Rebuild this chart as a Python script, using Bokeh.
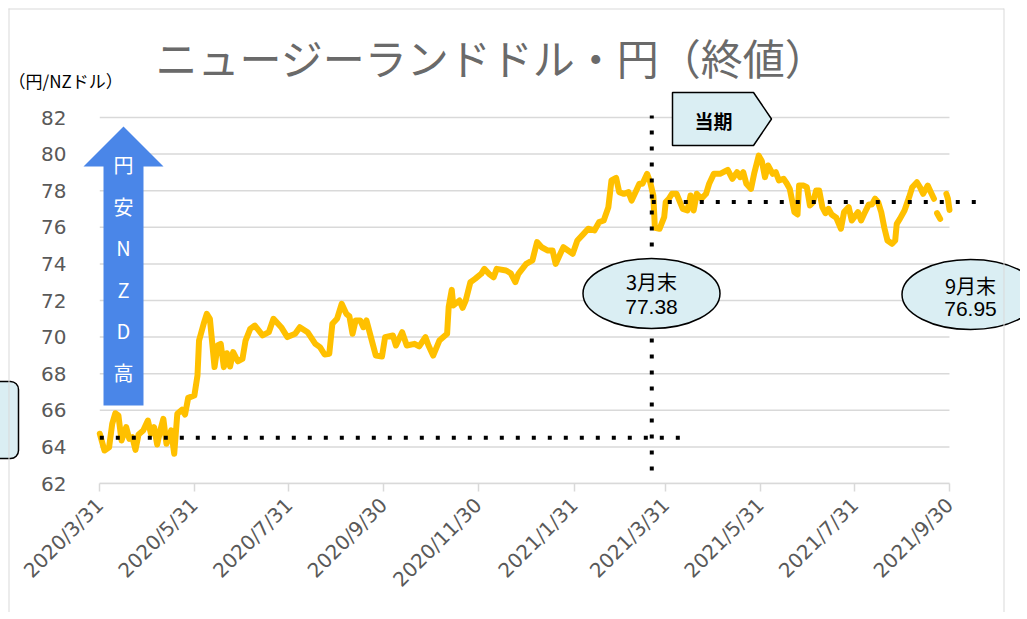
import numpy as np
import pandas as pd
from bokeh.plotting import figure
from bokeh.models import Range1d, FixedTicker, ColumnDataSource
from bokeh.embed import file_html
from bokeh.resources import INLINE
from bokeh.core.properties import value

# ---------------- data ----------------
dates = [
    "2020-03-31", "2020-04-03", "2020-04-06", "2020-04-08", "2020-04-10", "2020-04-12", "2020-04-14",
    "2020-04-17", "2020-04-19", "2020-04-21", "2020-04-23", "2020-04-25", "2020-04-28", "2020-05-01",
    "2020-05-03", "2020-05-05", "2020-05-07", "2020-05-09", "2020-05-11", "2020-05-13", "2020-05-16",
    "2020-05-18", "2020-05-20", "2020-05-23", "2020-05-25", "2020-05-27", "2020-05-31", "2020-06-02",
    "2020-06-03", "2020-06-06", "2020-06-08", "2020-06-10", "2020-06-13", "2020-06-15", "2020-06-17",
    "2020-06-19", "2020-06-21", "2020-06-23", "2020-06-25", "2020-06-28", "2020-07-01", "2020-07-03",
    "2020-07-06", "2020-07-09", "2020-07-14", "2020-07-18", "2020-07-21", "2020-07-26", "2020-07-30",
    "2020-08-04", "2020-08-07", "2020-08-12", "2020-08-17", "2020-08-20", "2020-08-23", "2020-08-26",
    "2020-08-28", "2020-08-31", "2020-09-03", "2020-09-06", "2020-09-08", "2020-09-10", "2020-09-12",
    "2020-09-15", "2020-09-17", "2020-09-19", "2020-09-23", "2020-09-25", "2020-09-29", "2020-10-01",
    "2020-10-06", "2020-10-08", "2020-10-12", "2020-10-15", "2020-10-20", "2020-10-23", "2020-10-27",
    "2020-10-29", "2020-11-01", "2020-11-05", "2020-11-10", "2020-11-11", "2020-11-13", "2020-11-14",
    "2020-11-18", "2020-11-20", "2020-11-22", "2020-11-25", "2020-11-28", "2020-12-02", "2020-12-04",
    "2020-12-07", "2020-12-10", "2020-12-12", "2020-12-18", "2020-12-21", "2020-12-24", "2020-12-26",
    "2020-12-31", "2021-01-04", "2021-01-07", "2021-01-10", "2021-01-14", "2021-01-17", "2021-01-19",
    "2021-01-22", "2021-01-24", "2021-01-27", "2021-01-30", "2021-02-02", "2021-02-06", "2021-02-09",
    "2021-02-13", "2021-02-16", "2021-02-19", "2021-02-22", "2021-02-24", "2021-02-27", "2021-03-01",
    "2021-03-04", "2021-03-07", "2021-03-09", "2021-03-12", "2021-03-14", "2021-03-16", "2021-03-19",
    "2021-03-21", "2021-03-23", "2021-03-24", "2021-03-27", "2021-03-30", "2021-03-31", "2021-04-02",
    "2021-04-04", "2021-04-07", "2021-04-11", "2021-04-14", "2021-04-16", "2021-04-18", "2021-04-20",
    "2021-04-23", "2021-04-26", "2021-04-28", "2021-05-01", "2021-05-05", "2021-05-10", "2021-05-13",
    "2021-05-16", "2021-05-18", "2021-05-20", "2021-05-22", "2021-05-25", "2021-05-27", "2021-05-30",
    "2021-06-01", "2021-06-03", "2021-06-05", "2021-06-08", "2021-06-10", "2021-06-12", "2021-06-15",
    "2021-06-17", "2021-06-19", "2021-06-22", "2021-06-24", "2021-06-25", "2021-06-28", "2021-06-30",
    "2021-07-02", "2021-07-04", "2021-07-06", "2021-07-08", "2021-07-10", "2021-07-12", "2021-07-14",
    "2021-07-16", "2021-07-19", "2021-07-22", "2021-07-24", "2021-07-27", "2021-07-29", "2021-08-02",
    "2021-08-04", "2021-08-06", "2021-08-09", "2021-08-11", "2021-08-13", "2021-08-15", "2021-08-17",
    "2021-08-19", "2021-08-21", "2021-08-24", "2021-08-26", "2021-08-27", "2021-08-29", "2021-09-01",
    "2021-09-04", "2021-09-06", "2021-09-09", "2021-09-11", "2021-09-13", "2021-09-16", "2021-09-18",
    "2021-09-20", "2021-09-21", "2021-09-22", "2021-09-24", "2021-09-26", "2021-09-28", "2021-09-29",
    "2021-09-30",
]
rates = [
    64.72, 63.80, 63.98, 65.26, 65.84, 65.72, 64.35,
    65.08, 64.44, 64.53, 63.84, 64.68, 64.90, 65.44,
    64.72, 65.08, 64.13, 64.90, 65.53, 64.17, 64.90,
    63.62, 65.81, 66.03, 65.77, 66.68, 66.81, 67.90,
    69.81, 70.73, 71.27, 71.00, 68.36, 69.54, 69.63,
    68.36, 69.12, 68.39, 69.18, 68.68, 68.81, 69.81,
    70.45, 70.63, 70.09, 70.27, 71.00, 70.54, 70.00,
    70.18, 70.54, 70.27, 69.63, 69.45, 69.05, 69.09,
    70.73, 71.00, 71.82, 71.27, 71.13, 70.18, 70.91,
    70.91, 70.54, 70.91, 69.63, 68.99, 68.94, 70.00,
    70.09, 69.54, 70.27, 69.54, 69.63, 69.49, 70.00,
    69.54, 68.99, 69.81, 70.18, 71.64, 72.58, 71.73,
    72.00, 71.60, 72.00, 73.00, 73.18, 73.46, 73.73,
    73.46, 73.27, 73.73, 73.64, 73.49, 73.00, 73.46,
    74.00, 74.19, 75.19, 74.91, 74.73, 74.73, 74.00,
    74.55, 74.91, 74.73, 74.55, 75.28, 75.64, 75.92,
    75.83, 76.28, 76.37, 77.10, 78.56, 78.70, 77.92,
    77.83, 77.92, 77.46, 78.01, 78.38, 78.38, 78.92,
    78.46, 77.74, 75.97, 75.92, 76.55, 77.38, 77.56,
    77.83, 77.83, 77.01, 76.92, 77.74, 76.92, 77.83,
    77.56, 77.83, 78.38, 78.92, 78.92, 79.14, 78.65,
    79.01, 78.74, 79.01, 78.38, 78.10, 78.92, 79.92,
    79.61, 78.74, 79.38, 78.92, 79.01, 78.56, 78.65,
    78.41, 78.10, 76.83, 76.70, 78.28, 78.28, 78.19,
    77.19, 77.37, 78.01, 78.01, 77.10, 76.77, 77.01,
    76.70, 76.52, 75.92, 76.83, 77.10, 76.37, 76.83,
    76.37, 76.74, 77.25, 77.25, 77.56, 77.37, 76.83,
    75.97, 75.28, 75.10, 75.28, 76.19, 76.46, 76.92,
    77.65, 78.19, 78.46, 78.19, 77.83, 78.28, 77.92,
    77.56, np.nan, 76.77, 76.46, np.nan, 77.83, 77.56,
    76.95,
]

y_ticks = [62, 64, 66, 68, 70, 72, 74, 76, 78, 80, 82]
x_tick_dates = ["2020-03-31", "2020-05-31", "2020-07-31", "2020-09-30", "2020-11-30",
                "2021-01-31", "2021-03-31", "2021-05-31", "2021-07-31", "2021-09-30"]
x_tick_labels = ["2020/3/31", "2020/5/31", "2020/7/31", "2020/9/30", "2020/11/30",
                 "2021/1/31", "2021/3/31", "2021/5/31", "2021/7/31", "2021/9/30"]

title_text = "ニュージーランドドル・円（終値）"
unit_text = "（円/NZドル）"
start_level = 64.5             # dotted reference level at the start
start_line_end = "2021-04-11"
period_start = "2021-03-22"    # vertical dotted line (当期 start)
mar_level = 77.38
mar_line_end = "2021-10-24"
callout_mar = ("3月末", "77.38")
callout_sep = ("9月末", "76.95")
arrow_text = "円\n安\nN\nZ\nD\n高"
period_text = "当期"

# ---------------- helpers (page pixel -> data) ----------------
def ms(d):
    return pd.Timestamp(d).value / 1e6

DAY = 86400000.0
X_ORIGIN = 99.3      # page px of first date
PX_PER_DAY = 1.5505
Y_ORIGIN = 483.0     # page px of 62
PX_PER_UNIT = 18.3

def px_x(X):
    return ms(x_tick_dates[0]) + (X - X_ORIGIN) / PX_PER_DAY * DAY

def px_y(Y):
    return 62 + (Y_ORIGIN - Y) / PX_PER_UNIT

W, H = 1020, 612
FL, FT, FB = 80, 85, 483   # frame left / top / bottom (page px)
p = figure(width=W, height=H, x_axis_type="datetime",
           x_range=Range1d(px_x(FL), px_x(W)), y_range=Range1d(62, px_y(FT)),
           min_border_left=FL, min_border_right=0, min_border_top=FT, min_border_bottom=H - FB,
           output_backend="svg", toolbar_location=None)
p.outline_line_color = None
p.background_fill_color = "white"
p.border_fill_color = "white"
p.xgrid.visible = False
p.ygrid.visible = False

GRAY_TXT = "#595959"
GRID = "#D9D9D9"

# axes
p.yaxis.ticker = FixedTicker(ticks=y_ticks)
p.yaxis.axis_line_color = None
p.yaxis.major_tick_line_color = None
p.yaxis.minor_tick_line_color = None
p.yaxis.major_label_standoff = 8
p.yaxis.major_label_text_font = "DejaVu Sans"
p.yaxis.major_label_text_font_size = "20px"
p.yaxis.major_label_text_color = GRAY_TXT

tick_ms = [int(ms(d)) for d in x_tick_dates]
p.xaxis.ticker = FixedTicker(ticks=tick_ms)
p.xaxis.major_label_overrides = {t: lab for t, lab in zip(tick_ms, x_tick_labels)}
p.xaxis.major_label_orientation = np.pi / 4
p.xaxis.major_label_text_font = "DejaVu Sans"
p.xaxis.major_label_text_font_size = "20px"
p.xaxis.major_label_text_color = GRAY_TXT
p.xaxis.major_label_standoff = 10
p.xaxis.axis_line_color = GRID
p.xaxis.axis_line_width = 1.5
p.xaxis.bounds = (tick_ms[0], tick_ms[-1])
p.xaxis.major_tick_line_color = GRID
p.xaxis.major_tick_line_width = 1.5
p.xaxis.major_tick_out = 8
p.xaxis.major_tick_in = 0
p.xaxis.minor_tick_line_color = None

# horizontal grid lines (only across the data period)
p.segment(x0=[tick_ms[0]] * len(y_ticks), x1=[tick_ms[-1]] * len(y_ticks),
          y0=y_ticks, y1=y_ticks, line_color=GRID, line_width=1.5)

# blue arrow with text
arrow_px = [(103, 405), (103, 166), (83, 166), (123, 126), (163, 166), (143, 166), (143, 405)]
p.patch([px_x(a) for a, b in arrow_px], [px_y(b) for a, b in arrow_px],
        fill_color="#4A86E8", line_color=None)
p.text(x=[px_x(123)], y=[px_y(268)], text=[arrow_text], text_align="center",
       text_baseline="middle", text_color="white", text_font=value("Noto Sans CJK JP"),
       text_font_size="20px", text_line_height=1.43)

# series
src = ColumnDataSource(dict(x=[ms(d) for d in dates], y=rates))
p.line("x", "y", source=src, line_color="#FFC000", line_width=6,
       line_join="round", line_cap="round")

# dotted reference lines
dot = dict(line_color="black", line_width=4, line_dash="4 12")
p.line([ms(dates[0]), ms(start_line_end)], [start_level, start_level], **dot)
p.line([ms(period_start), ms(mar_line_end)], [mar_level, mar_level], **dot)
p.line([ms(period_start), ms(period_start)], [px_y(470), px_y(115)], **dot)

# 当期 pentagon
pent = [(672, 92), (753, 92), (771, 118.5), (753, 145), (672, 145)]
p.patch([px_x(a) for a, b in pent], [px_y(b) for a, b in pent],
        fill_color="#DAEEF3", line_color="black", line_width=1.5)
p.text(x=[px_x(713)], y=[px_y(120)], text=[period_text], text_align="center",
       text_baseline="middle", text_color="black", text_font=value("Noto Sans CJK JP"),
       text_font_size="19px", text_font_style="bold")

# callout ellipses
p.ellipse(x=[px_x(651), px_x(970)], y=[px_y(293), px_y(294)], width=137, height=70,
          width_units="screen", height_units="screen",
          fill_color="#DAEEF3", line_color="black", line_width=1.5)
p.text(x=[px_x(651), px_x(970)], y=[px_y(281), px_y(285)], text=[callout_mar[0], callout_sep[0]],
       text_align="center", text_baseline="middle", text_color="black",
       text_font=value("Noto Sans CJK JP"), text_font_size="20px")
p.text(x=[px_x(651), px_x(970)], y=[px_y(306), px_y(308)], text=[callout_mar[1], callout_sep[1]],
       text_align="center", text_baseline="middle", text_color="black",
       text_font=value("Liberation Sans"), text_font_size="21px")

# ---- items outside the plot frame: overlay level (not clipped) ----
# partially visible box at the left edge
p.quad(left=[px_x(-20)], right=[px_x(18)], top=[px_y(381)], bottom=[px_y(458)],
       fill_color="#DAEEF3", line_color="black", line_width=1.5, border_radius=8,
       level="overlay")

# chart border
p.segment(x0=[px_x(8), px_x(8.5), px_x(1003.5)], x1=[px_x(1003.5), px_x(8.5), px_x(1003.5)],
          y0=[px_y(8.5), px_y(8), px_y(8)], y1=[px_y(8.5), px_y(640), px_y(640)],
          line_color=GRID, line_width=1, level="overlay")

# title and unit label
p.text(x=[px_x(491)], y=[px_y(56)], text=[title_text], text_align="center",
       text_baseline="middle", text_font=value("Noto Sans CJK JP"),
       text_font_size="42px", text_color="#6A6A6A", level="overlay")
p.text(x=[px_x(8)], y=[px_y(80)], text=[unit_text], text_align="left",
       text_baseline="middle", text_font=value("Noto Sans CJK JP"),
       text_font_size="17px", text_color="black", level="overlay")

open("out.html", "w").write(file_html(p, INLINE))
